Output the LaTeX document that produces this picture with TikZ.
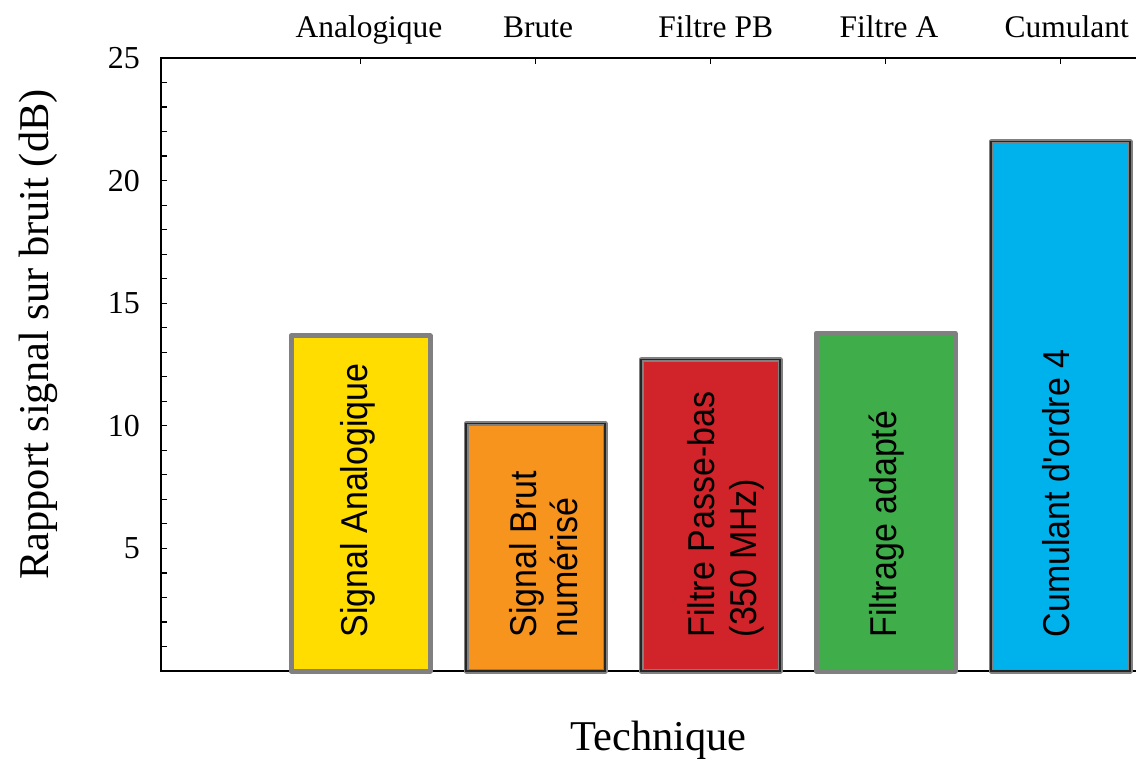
\documentclass[tikz,border=0pt]{standalone}
\usepackage{fontspec}
\setmainfont{Liberation Serif}
\newfontfamily\barfont{Liberation Sans}
\definecolor{yellowF}{HTML}{FFDD00}
\definecolor{orangeF}{HTML}{F7941E}
\definecolor{redF}{HTML}{D1232A}
\definecolor{greenF}{HTML}{3FAE4A}
\definecolor{blueF}{HTML}{00B2EB}
\definecolor{barGray}{HTML}{808080}
\begin{document}
\begin{tikzpicture}[x=1bp,y=-1bp,
  axisline/.style={line width=1.4bp, black},
  tickmark/.style={line width=1.2bp, black},
  barbox/.style={draw=barGray, line width=5bp, line join=round},
  barinner/.style={draw=black!85, line width=1.1bp},
  toplabel/.style={font=\fontsize{31.6}{36}\selectfont, anchor=base, inner sep=0pt},
  ticklabel/.style={font=\fontsize{32.1}{36}\selectfont, anchor=east, inner sep=0pt},
  axistitle/.style={font=\fontsize{42.6}{48}\selectfont, anchor=base, inner sep=0pt},
  barlabel/.style={font=\barfont\fontsize{34.1}{37.8}\selectfont, rotate=90, yscale=1.1, anchor=base west, inner sep=0pt}
]
\useasboundingbox (0,0) rectangle (1136,759);
% axes
\draw[axisline] (1136,58) -- (161,58) -- (161,671) -- (1136,671);
\foreach \k in {1,...,24} \draw[tickmark] (161,{671-\k*24.52}) -- ++(6,0);
\foreach \x in {360.5,535.5,710.5,885.5,1060.5} \draw[tickmark] (\x,58) -- ++(0,6);
% tick labels
\foreach \v in {5,10,15,20,25} \node[ticklabel] (t\v) at (140,{671-\v*24.52}) {\v};
% top labels
\node[toplabel] (lA) at (369,37.5) {Analogique};
\node[toplabel] (lB) at (538,37.5) {Brute};
\node[toplabel] (lC) at (715.7,37.5) {Filtre PB};
\node[toplabel] (lD) at (888.9,37.5) {Filtre A};
\node[toplabel] (lE) at (1066.7,37.5) {Cumulant};
% axis titles
\node[axistitle, rotate=90] (ytitle) at (48.5,334.5) {Rapport signal sur bruit (dB)};
\node[axistitle] (xtitle) at (658.5,750.5) {Technique};
% bars
\draw[barbox, fill=yellowF] (291,671) rectangle (430,335.8);
\draw[barbox, fill=orangeF] (466,671) rectangle (605,423.5);
\draw[barinner] (466,671) rectangle (605,423.5);
\draw[barbox, fill=redF] (641,671) rectangle (780,359.8);
\draw[barinner] (641,671) rectangle (780,359.8);
\draw[barbox, fill=greenF] (816,671) rectangle (955,333.2);
\draw[barbox, fill=blueF] (991,671) rectangle (1130,141.8);
\draw[barinner] (991,671) rectangle (1130,141.8);
% bar labels
\node[barlabel] (bA) at (367.3,637.5) {Signal Analogique};
\node[barlabel] (bB) at (577.7,637.5) {\begin{tabular}[b]{@{}l@{}}Signal Brut\\numérisé\end{tabular}};
\node[barlabel] (bC) at (756,637.5) {\begin{tabular}[b]{@{}l@{}}Filtre Passe-bas\\(350 MHz)\end{tabular}};
\node[barlabel] (bD) at (896,637.5) {Filtrage adapté};
\node[barlabel] (bE) at (1069.3,637.5) {Cumulant d'ordre 4};
\end{tikzpicture}
\end{document}
